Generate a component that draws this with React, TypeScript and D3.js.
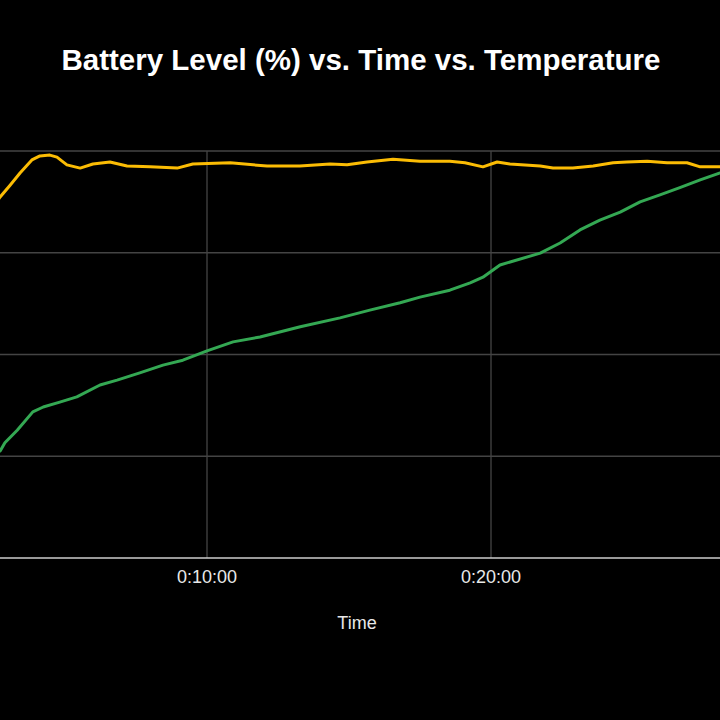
import React from "react";
import * as d3 from "d3";

// Time in seconds since start
const batteryTimes = [150, 163, 173, 199, 232, 254, 289, 325, 374, 410, 458, 507, 549, 600, 655, 712, 797, 881, 944, 1008, 1050, 1113, 1156, 1183, 1219, 1304, 1346, 1388, 1430, 1473, 1515, 1557, 1599, 1642, 1684, 1700];
const batteryLevel = [25.5, 26.3, 28.3, 31.4, 35.9, 37.1, 38.3, 39.6, 42.5, 43.7, 45.5, 47.4, 48.6, 50.9, 53.1, 54.3, 56.8, 59.0, 60.9, 62.7, 64.1, 65.8, 67.6, 69.0, 72.0, 74.9, 77.4, 80.6, 83.0, 85.0, 87.5, 89.2, 91.0, 92.9, 94.6, 95.2];

const tempTimes = [150, 163, 184, 205, 230, 247, 268, 283, 304, 332, 359, 395, 431, 480, 537, 570, 649, 727, 796, 860, 896, 938, 993, 1050, 1113, 1145, 1183, 1213, 1240, 1304, 1331, 1373, 1416, 1458, 1487, 1530, 1572, 1614, 1642, 1684, 1700];
const temperature = [86.5, 88.7, 91.6, 94.6, 97.8, 98.8, 99.0, 98.5, 96.6, 95.8, 96.8, 97.3, 96.3, 96.1, 95.8, 96.8, 97.1, 96.3, 96.3, 96.8, 96.6, 97.3, 98.0, 97.5, 97.5, 97.1, 96.1, 97.3, 96.8, 96.3, 95.8, 95.8, 96.3, 97.1, 97.3, 97.5, 97.1, 97.1, 96.1, 96.1, 96.1];

const xTicks = [0, 600, 1200, 1800];
const xTickLabelsShown = [600, 1200];
const yTicks = [0, 25, 50, 75, 100];

const TITLE = "Battery Level (%) vs. Time vs. Temperature";
const X_TITLE = "Time";

const W = 720;
const H = 720;

function fmtTime(s: number) {
  const h = Math.floor(s / 3600);
  const m = Math.floor((s % 3600) / 60);
  const sec = Math.floor(s % 60);
  return `${h}:${String(m).padStart(2, "0")}:${String(sec).padStart(2, "0")}`;
}

export default function App() {
  const x = d3.scaleLinear().domain([0, 1200]).range([-77, 491]);
  const y = d3.scaleLinear().domain([0, 100]).range([558, 151]);

  const line = d3
    .line<[number, number]>()
    .x((d) => x(d[0]))
    .y((d) => y(d[1]))
    .curve(d3.curveLinear);

  const battery = batteryTimes.map((t, i) => [t, batteryLevel[i]] as [number, number]);
  const temp = tempTimes.map((t, i) => [t, temperature[i]] as [number, number]);

  const font = "'Liberation Sans', Arial, sans-serif";

  return (
    <svg
      width={W}
      height={H}
      style={{ position: "absolute", left: 0, top: 0, background: "#000" }}
    >
      <rect x={0} y={0} width={W} height={H} fill="#000" />
      <defs>
        <clipPath id="plot">
          <rect x={x(0)} y={y(100) - 10} width={x(1800) - x(0)} height={y(0) - y(100) + 10} />
        </clipPath>
      </defs>
      {yTicks
        .filter((t) => t !== 0)
        .map((t) => (
          <line key={"gy" + t} x1={x(0)} x2={x(1800)} y1={y(t)} y2={y(t)} stroke="#444" strokeWidth={1.3} />
        ))}
      {xTicks.map((t) => (
        <line key={"gx" + t} x1={x(t)} x2={x(t)} y1={y(100)} y2={y(0)} stroke="#444" strokeWidth={1.3} />
      ))}
      <line x1={x(0)} x2={x(1800)} y1={y(0)} y2={y(0)} stroke="#cccccc" strokeWidth={1.3} />
      <g clipPath="url(#plot)">
        <path d={line(temp) || ""} fill="none" stroke="#fbbc04" strokeWidth={3} strokeLinejoin="round" />
        <path d={line(battery) || ""} fill="none" stroke="#34a853" strokeWidth={3} strokeLinejoin="round" />
      </g>
      {xTickLabelsShown.map((t) => (
        <text
          key={"tx" + t}
          x={x(t)}
          y={583}
          textAnchor="middle"
          fill="#e8e8e8"
          fontFamily={font}
          fontSize={18}
        >
          {fmtTime(t)}
        </text>
      ))}
      <text x={357} y={629} textAnchor="middle" fill="#e8e8e8" fontFamily={font} fontSize={18}>
        {X_TITLE}
      </text>
      <text x={361} y={70} textAnchor="middle" fill="#fff" fontFamily={font} fontSize={29.5} fontWeight="bold">
        {TITLE}
      </text>
    </svg>
  );
}
